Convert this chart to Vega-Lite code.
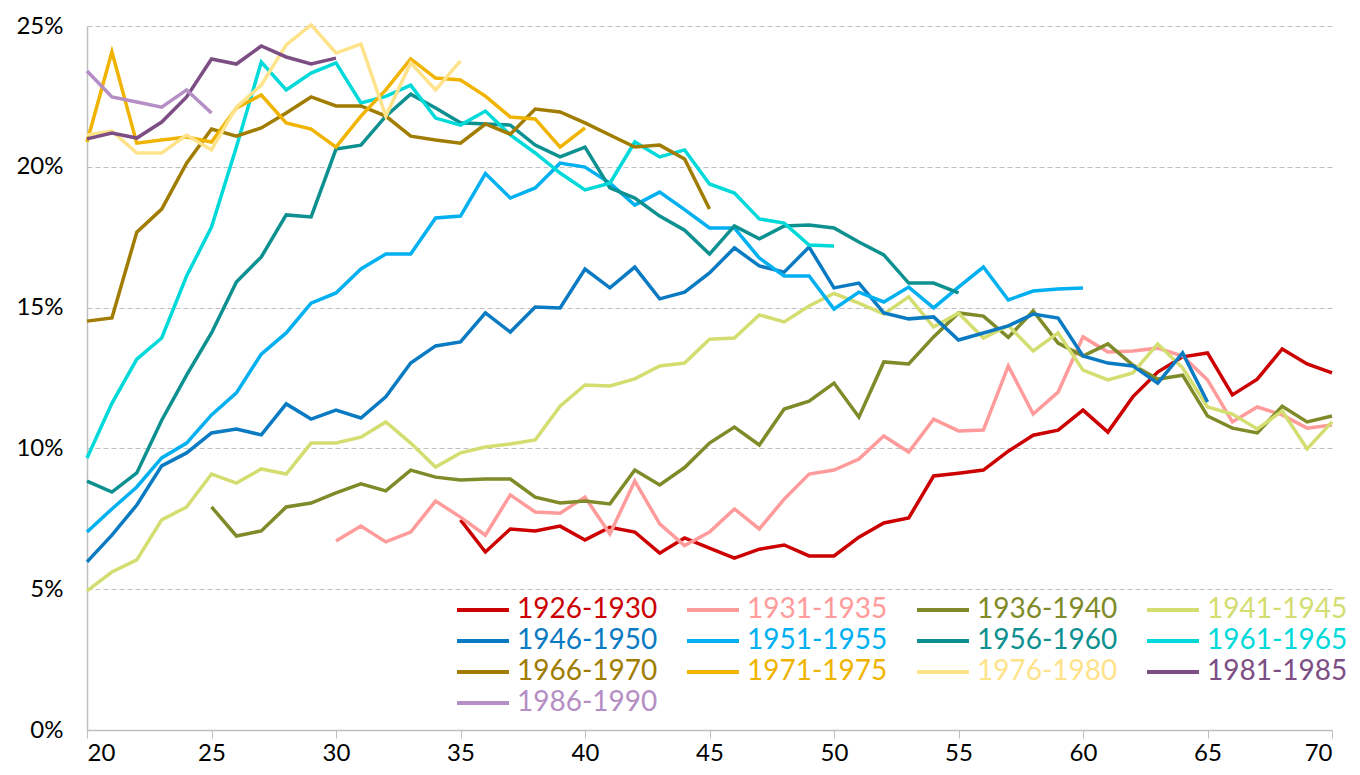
{
  "$schema": "https://vega.github.io/schema/vega-lite/v6.json",
  "width": 1245,
  "height": 704,
  "autosize": {"type": "none"},
  "padding": {"left": 87, "top": 26, "right": 28, "bottom": 45},
  "background": "white",
  "config": {
    "view": {"stroke": null},
    "font": "Lato",
    "axis": {"labelFont": "Lato", "labelColor": "#000000"}
  },
  "data": {"values": [
    {"c":"1926-1930","a":35,"v":7.46},{"c":"1926-1930","a":36,"v":6.32},{"c":"1926-1930","a":37,"v":7.14},{"c":"1926-1930","a":38,"v":7.07},{"c":"1926-1930","a":39,"v":7.24},{"c":"1926-1930","a":40,"v":6.75},{"c":"1926-1930","a":41,"v":7.2},{"c":"1926-1930","a":42,"v":7.03},{"c":"1926-1930","a":43,"v":6.28},{"c":"1926-1930","a":44,"v":6.82},{"c":"1926-1930","a":45,"v":6.46},{"c":"1926-1930","a":46,"v":6.1},{"c":"1926-1930","a":47,"v":6.42},{"c":"1926-1930","a":48,"v":6.57},{"c":"1926-1930","a":49,"v":6.18},{"c":"1926-1930","a":50,"v":6.18},{"c":"1926-1930","a":51,"v":6.85},{"c":"1926-1930","a":52,"v":7.35},{"c":"1926-1930","a":53,"v":7.53},{"c":"1926-1930","a":54,"v":9.02},{"c":"1926-1930","a":55,"v":9.12},{"c":"1926-1930","a":56,"v":9.23},{"c":"1926-1930","a":57,"v":9.9},{"c":"1926-1930","a":58,"v":10.47},{"c":"1926-1930","a":59,"v":10.65},{"c":"1926-1930","a":60,"v":11.36},{"c":"1926-1930","a":61,"v":10.58},{"c":"1926-1930","a":62,"v":11.83},{"c":"1926-1930","a":63,"v":12.71},{"c":"1926-1930","a":64,"v":13.25},{"c":"1926-1930","a":65,"v":13.39},{"c":"1926-1930","a":66,"v":11.9},{"c":"1926-1930","a":67,"v":12.46},{"c":"1926-1930","a":68,"v":13.53},{"c":"1926-1930","a":69,"v":13.0},{"c":"1926-1930","a":70,"v":12.68},
    {"c":"1931-1935","a":30,"v":6.71},{"c":"1931-1935","a":31,"v":7.24},{"c":"1931-1935","a":32,"v":6.68},{"c":"1931-1935","a":33,"v":7.03},{"c":"1931-1935","a":34,"v":8.13},{"c":"1931-1935","a":35,"v":7.56},{"c":"1931-1935","a":36,"v":6.92},{"c":"1931-1935","a":37,"v":8.35},{"c":"1931-1935","a":38,"v":7.74},{"c":"1931-1935","a":39,"v":7.7},{"c":"1931-1935","a":40,"v":8.27},{"c":"1931-1935","a":41,"v":6.96},{"c":"1931-1935","a":42,"v":8.84},{"c":"1931-1935","a":43,"v":7.32},{"c":"1931-1935","a":44,"v":6.55},{"c":"1931-1935","a":45,"v":7.03},{"c":"1931-1935","a":46,"v":7.85},{"c":"1931-1935","a":47,"v":7.14},{"c":"1931-1935","a":48,"v":8.2},{"c":"1931-1935","a":49,"v":9.09},{"c":"1931-1935","a":50,"v":9.23},{"c":"1931-1935","a":51,"v":9.62},{"c":"1931-1935","a":52,"v":10.44},{"c":"1931-1935","a":53,"v":9.87},{"c":"1931-1935","a":54,"v":11.04},{"c":"1931-1935","a":55,"v":10.62},{"c":"1931-1935","a":56,"v":10.65},{"c":"1931-1935","a":57,"v":12.93},{"c":"1931-1935","a":58,"v":11.22},{"c":"1931-1935","a":59,"v":12.0},{"c":"1931-1935","a":60,"v":13.96},{"c":"1931-1935","a":61,"v":13.42},{"c":"1931-1935","a":62,"v":13.46},{"c":"1931-1935","a":63,"v":13.56},{"c":"1931-1935","a":64,"v":13.28},{"c":"1931-1935","a":65,"v":12.43},{"c":"1931-1935","a":66,"v":10.94},{"c":"1931-1935","a":67,"v":11.47},{"c":"1931-1935","a":68,"v":11.19},{"c":"1931-1935","a":69,"v":10.72},{"c":"1931-1935","a":70,"v":10.83},
    {"c":"1936-1940","a":25,"v":7.92},{"c":"1936-1940","a":26,"v":6.89},{"c":"1936-1940","a":27,"v":7.07},{"c":"1936-1940","a":28,"v":7.92},{"c":"1936-1940","a":29,"v":8.06},{"c":"1936-1940","a":30,"v":8.42},{"c":"1936-1940","a":31,"v":8.74},{"c":"1936-1940","a":32,"v":8.49},{"c":"1936-1940","a":33,"v":9.23},{"c":"1936-1940","a":34,"v":8.98},{"c":"1936-1940","a":35,"v":8.88},{"c":"1936-1940","a":36,"v":8.91},{"c":"1936-1940","a":37,"v":8.91},{"c":"1936-1940","a":38,"v":8.27},{"c":"1936-1940","a":39,"v":8.06},{"c":"1936-1940","a":40,"v":8.13},{"c":"1936-1940","a":41,"v":8.03},{"c":"1936-1940","a":42,"v":9.23},{"c":"1936-1940","a":43,"v":8.7},{"c":"1936-1940","a":44,"v":9.32},{"c":"1936-1940","a":45,"v":10.19},{"c":"1936-1940","a":46,"v":10.76},{"c":"1936-1940","a":47,"v":10.12},{"c":"1936-1940","a":48,"v":11.4},{"c":"1936-1940","a":49,"v":11.68},{"c":"1936-1940","a":50,"v":12.32},{"c":"1936-1940","a":51,"v":11.11},{"c":"1936-1940","a":52,"v":13.07},{"c":"1936-1940","a":53,"v":13.0},{"c":"1936-1940","a":54,"v":13.96},{"c":"1936-1940","a":55,"v":14.81},{"c":"1936-1940","a":56,"v":14.7},{"c":"1936-1940","a":57,"v":13.94},{"c":"1936-1940","a":58,"v":14.88},{"c":"1936-1940","a":59,"v":13.74},{"c":"1936-1940","a":60,"v":13.28},{"c":"1936-1940","a":61,"v":13.71},{"c":"1936-1940","a":62,"v":12.96},{"c":"1936-1940","a":63,"v":12.46},{"c":"1936-1940","a":64,"v":12.6},{"c":"1936-1940","a":65,"v":11.15},{"c":"1936-1940","a":66,"v":10.72},{"c":"1936-1940","a":67,"v":10.55},{"c":"1936-1940","a":68,"v":11.5},{"c":"1936-1940","a":69,"v":10.94},{"c":"1936-1940","a":70,"v":11.15},
    {"c":"1941-1945","a":20,"v":4.94},{"c":"1941-1945","a":21,"v":5.61},{"c":"1941-1945","a":22,"v":6.04},{"c":"1941-1945","a":23,"v":7.46},{"c":"1941-1945","a":24,"v":7.92},{"c":"1941-1945","a":25,"v":9.09},{"c":"1941-1945","a":26,"v":8.77},{"c":"1941-1945","a":27,"v":9.27},{"c":"1941-1945","a":28,"v":9.09},{"c":"1941-1945","a":29,"v":10.19},{"c":"1941-1945","a":30,"v":10.19},{"c":"1941-1945","a":31,"v":10.4},{"c":"1941-1945","a":32,"v":10.94},{"c":"1941-1945","a":33,"v":10.19},{"c":"1941-1945","a":34,"v":9.34},{"c":"1941-1945","a":35,"v":9.84},{"c":"1941-1945","a":36,"v":10.05},{"c":"1941-1945","a":37,"v":10.16},{"c":"1941-1945","a":38,"v":10.3},{"c":"1941-1945","a":39,"v":11.5},{"c":"1941-1945","a":40,"v":12.25},{"c":"1941-1945","a":41,"v":12.22},{"c":"1941-1945","a":42,"v":12.47},{"c":"1941-1945","a":43,"v":12.93},{"c":"1941-1945","a":44,"v":13.03},{"c":"1941-1945","a":45,"v":13.88},{"c":"1941-1945","a":46,"v":13.92},{"c":"1941-1945","a":47,"v":14.74},{"c":"1941-1945","a":48,"v":14.49},{"c":"1941-1945","a":49,"v":15.06},{"c":"1941-1945","a":50,"v":15.5},{"c":"1941-1945","a":51,"v":15.16},{"c":"1941-1945","a":52,"v":14.77},{"c":"1941-1945","a":53,"v":15.38},{"c":"1941-1945","a":54,"v":14.31},{"c":"1941-1945","a":55,"v":14.81},{"c":"1941-1945","a":56,"v":13.92},{"c":"1941-1945","a":57,"v":14.36},{"c":"1941-1945","a":58,"v":13.46},{"c":"1941-1945","a":59,"v":14.1},{"c":"1941-1945","a":60,"v":12.78},{"c":"1941-1945","a":61,"v":12.43},{"c":"1941-1945","a":62,"v":12.68},{"c":"1941-1945","a":63,"v":13.71},{"c":"1941-1945","a":64,"v":12.86},{"c":"1941-1945","a":65,"v":11.47},{"c":"1941-1945","a":66,"v":11.22},{"c":"1941-1945","a":67,"v":10.69},{"c":"1941-1945","a":68,"v":11.33},{"c":"1941-1945","a":69,"v":9.98},{"c":"1941-1945","a":70,"v":10.94},
    {"c":"1946-1950","a":20,"v":5.97},{"c":"1946-1950","a":21,"v":6.92},{"c":"1946-1950","a":22,"v":7.99},{"c":"1946-1950","a":23,"v":9.38},{"c":"1946-1950","a":24,"v":9.84},{"c":"1946-1950","a":25,"v":10.55},{"c":"1946-1950","a":26,"v":10.69},{"c":"1946-1950","a":27,"v":10.48},{"c":"1946-1950","a":28,"v":11.58},{"c":"1946-1950","a":29,"v":11.04},{"c":"1946-1950","a":30,"v":11.36},{"c":"1946-1950","a":31,"v":11.08},{"c":"1946-1950","a":32,"v":11.83},{"c":"1946-1950","a":33,"v":13.03},{"c":"1946-1950","a":34,"v":13.64},{"c":"1946-1950","a":35,"v":13.78},{"c":"1946-1950","a":36,"v":14.81},{"c":"1946-1950","a":37,"v":14.13},{"c":"1946-1950","a":38,"v":15.02},{"c":"1946-1950","a":39,"v":14.99},{"c":"1946-1950","a":40,"v":16.37},{"c":"1946-1950","a":41,"v":15.7},{"c":"1946-1950","a":42,"v":16.44},{"c":"1946-1950","a":43,"v":15.31},{"c":"1946-1950","a":44,"v":15.55},{"c":"1946-1950","a":45,"v":16.23},{"c":"1946-1950","a":46,"v":17.12},{"c":"1946-1950","a":47,"v":16.48},{"c":"1946-1950","a":48,"v":16.26},{"c":"1946-1950","a":49,"v":17.15},{"c":"1946-1950","a":50,"v":15.7},{"c":"1946-1950","a":51,"v":15.87},{"c":"1946-1950","a":52,"v":14.81},{"c":"1946-1950","a":53,"v":14.6},{"c":"1946-1950","a":54,"v":14.67},{"c":"1946-1950","a":55,"v":13.85},{"c":"1946-1950","a":56,"v":14.1},{"c":"1946-1950","a":57,"v":14.35},{"c":"1946-1950","a":58,"v":14.77},{"c":"1946-1950","a":59,"v":14.63},{"c":"1946-1950","a":60,"v":13.28},{"c":"1946-1950","a":61,"v":13.03},{"c":"1946-1950","a":62,"v":12.93},{"c":"1946-1950","a":63,"v":12.32},{"c":"1946-1950","a":64,"v":13.39},{"c":"1946-1950","a":65,"v":11.65},
    {"c":"1951-1955","a":20,"v":7.03},{"c":"1951-1955","a":21,"v":7.85},{"c":"1951-1955","a":22,"v":8.63},{"c":"1951-1955","a":23,"v":9.66},{"c":"1951-1955","a":24,"v":10.19},{"c":"1951-1955","a":25,"v":11.19},{"c":"1951-1955","a":26,"v":11.97},{"c":"1951-1955","a":27,"v":13.35},{"c":"1951-1955","a":28,"v":14.1},{"c":"1951-1955","a":29,"v":15.16},{"c":"1951-1955","a":30,"v":15.52},{"c":"1951-1955","a":31,"v":16.37},{"c":"1951-1955","a":32,"v":16.9},{"c":"1951-1955","a":33,"v":16.9},{"c":"1951-1955","a":34,"v":18.18},{"c":"1951-1955","a":35,"v":18.25},{"c":"1951-1955","a":36,"v":19.76},{"c":"1951-1955","a":37,"v":18.89},{"c":"1951-1955","a":38,"v":19.25},{"c":"1951-1955","a":39,"v":20.13},{"c":"1951-1955","a":40,"v":19.99},{"c":"1951-1955","a":41,"v":19.42},{"c":"1951-1955","a":42,"v":18.64},{"c":"1951-1955","a":43,"v":19.1},{"c":"1951-1955","a":44,"v":18.48},{"c":"1951-1955","a":45,"v":17.83},{"c":"1951-1955","a":46,"v":17.83},{"c":"1951-1955","a":47,"v":16.76},{"c":"1951-1955","a":48,"v":16.12},{"c":"1951-1955","a":49,"v":16.12},{"c":"1951-1955","a":50,"v":14.95},{"c":"1951-1955","a":51,"v":15.55},{"c":"1951-1955","a":52,"v":15.2},{"c":"1951-1955","a":53,"v":15.73},{"c":"1951-1955","a":54,"v":14.99},{"c":"1951-1955","a":55,"v":15.73},{"c":"1951-1955","a":56,"v":16.44},{"c":"1951-1955","a":57,"v":15.27},{"c":"1951-1955","a":58,"v":15.59},{"c":"1951-1955","a":59,"v":15.66},{"c":"1951-1955","a":60,"v":15.7},
    {"c":"1956-1960","a":20,"v":8.84},{"c":"1956-1960","a":21,"v":8.45},{"c":"1956-1960","a":22,"v":9.13},{"c":"1956-1960","a":23,"v":11.0},{"c":"1956-1960","a":24,"v":12.6},{"c":"1956-1960","a":25,"v":14.1},{"c":"1956-1960","a":26,"v":15.91},{"c":"1956-1960","a":27,"v":16.8},{"c":"1956-1960","a":28,"v":18.29},{"c":"1956-1960","a":29,"v":18.22},{"c":"1956-1960","a":30,"v":20.63},{"c":"1956-1960","a":31,"v":20.77},{"c":"1956-1960","a":32,"v":21.8},{"c":"1956-1960","a":33,"v":22.58},{"c":"1956-1960","a":34,"v":22.09},{"c":"1956-1960","a":35,"v":21.56},{"c":"1956-1960","a":36,"v":21.52},{"c":"1956-1960","a":37,"v":21.48},{"c":"1956-1960","a":38,"v":20.77},{"c":"1956-1960","a":39,"v":20.35},{"c":"1956-1960","a":40,"v":20.7},{"c":"1956-1960","a":41,"v":19.25},{"c":"1956-1960","a":42,"v":18.89},{"c":"1956-1960","a":43,"v":18.25},{"c":"1956-1960","a":44,"v":17.75},{"c":"1956-1960","a":45,"v":16.9},{"c":"1956-1960","a":46,"v":17.9},{"c":"1956-1960","a":47,"v":17.44},{"c":"1956-1960","a":48,"v":17.9},{"c":"1956-1960","a":49,"v":17.93},{"c":"1956-1960","a":50,"v":17.83},{"c":"1956-1960","a":51,"v":17.33},{"c":"1956-1960","a":52,"v":16.87},{"c":"1956-1960","a":53,"v":15.87},{"c":"1956-1960","a":54,"v":15.87},{"c":"1956-1960","a":55,"v":15.52},
    {"c":"1961-1965","a":20,"v":9.66},{"c":"1961-1965","a":21,"v":11.6},{"c":"1961-1965","a":22,"v":13.17},{"c":"1961-1965","a":23,"v":13.92},{"c":"1961-1965","a":24,"v":16.12},{"c":"1961-1965","a":25,"v":17.86},{"c":"1961-1965","a":26,"v":20.7},{"c":"1961-1965","a":27,"v":23.72},{"c":"1961-1965","a":28,"v":22.73},{"c":"1961-1965","a":29,"v":23.33},{"c":"1961-1965","a":30,"v":23.69},{"c":"1961-1965","a":31,"v":22.27},{"c":"1961-1965","a":32,"v":22.5},{"c":"1961-1965","a":33,"v":22.9},{"c":"1961-1965","a":34,"v":21.73},{"c":"1961-1965","a":35,"v":21.48},{"c":"1961-1965","a":36,"v":21.98},{"c":"1961-1965","a":37,"v":21.13},{"c":"1961-1965","a":38,"v":20.49},{"c":"1961-1965","a":39,"v":19.78},{"c":"1961-1965","a":40,"v":19.18},{"c":"1961-1965","a":41,"v":19.42},{"c":"1961-1965","a":42,"v":20.88},{"c":"1961-1965","a":43,"v":20.35},{"c":"1961-1965","a":44,"v":20.6},{"c":"1961-1965","a":45,"v":19.39},{"c":"1961-1965","a":46,"v":19.07},{"c":"1961-1965","a":47,"v":18.15},{"c":"1961-1965","a":48,"v":18.0},{"c":"1961-1965","a":49,"v":17.22},{"c":"1961-1965","a":50,"v":17.19},
    {"c":"1966-1970","a":20,"v":14.52},{"c":"1966-1970","a":21,"v":14.63},{"c":"1966-1970","a":22,"v":17.68},{"c":"1966-1970","a":23,"v":18.5},{"c":"1966-1970","a":24,"v":20.13},{"c":"1966-1970","a":25,"v":21.34},{"c":"1966-1970","a":26,"v":21.09},{"c":"1966-1970","a":27,"v":21.38},{"c":"1966-1970","a":28,"v":21.91},{"c":"1966-1970","a":29,"v":22.48},{"c":"1966-1970","a":30,"v":22.16},{"c":"1966-1970","a":31,"v":22.16},{"c":"1966-1970","a":32,"v":21.8},{"c":"1966-1970","a":33,"v":21.09},{"c":"1966-1970","a":34,"v":20.95},{"c":"1966-1970","a":35,"v":20.84},{"c":"1966-1970","a":36,"v":21.52},{"c":"1966-1970","a":37,"v":21.16},{"c":"1966-1970","a":38,"v":22.05},{"c":"1966-1970","a":39,"v":21.95},{"c":"1966-1970","a":40,"v":21.56},{"c":"1966-1970","a":41,"v":21.13},{"c":"1966-1970","a":42,"v":20.7},{"c":"1966-1970","a":43,"v":20.77},{"c":"1966-1970","a":44,"v":20.28},{"c":"1966-1970","a":45,"v":18.5},
    {"c":"1971-1975","a":20,"v":20.88},{"c":"1971-1975","a":21,"v":24.08},{"c":"1971-1975","a":22,"v":20.84},{"c":"1971-1975","a":23,"v":20.95},{"c":"1971-1975","a":24,"v":21.06},{"c":"1971-1975","a":25,"v":20.88},{"c":"1971-1975","a":26,"v":22.09},{"c":"1971-1975","a":27,"v":22.55},{"c":"1971-1975","a":28,"v":21.56},{"c":"1971-1975","a":29,"v":21.34},{"c":"1971-1975","a":30,"v":20.7},{"c":"1971-1975","a":31,"v":21.8},{"c":"1971-1975","a":32,"v":22.73},{"c":"1971-1975","a":33,"v":23.83},{"c":"1971-1975","a":34,"v":23.15},{"c":"1971-1975","a":35,"v":23.08},{"c":"1971-1975","a":36,"v":22.51},{"c":"1971-1975","a":37,"v":21.77},{"c":"1971-1975","a":38,"v":21.7},{"c":"1971-1975","a":39,"v":20.7},{"c":"1971-1975","a":40,"v":21.38},
    {"c":"1976-1980","a":20,"v":21.13},{"c":"1976-1980","a":21,"v":21.27},{"c":"1976-1980","a":22,"v":20.49},{"c":"1976-1980","a":23,"v":20.49},{"c":"1976-1980","a":24,"v":21.13},{"c":"1976-1980","a":25,"v":20.6},{"c":"1976-1980","a":26,"v":22.12},{"c":"1976-1980","a":27,"v":22.9},{"c":"1976-1980","a":28,"v":24.33},{"c":"1976-1980","a":29,"v":25.04},{"c":"1976-1980","a":30,"v":24.04},{"c":"1976-1980","a":31,"v":24.36},{"c":"1976-1980","a":32,"v":21.8},{"c":"1976-1980","a":33,"v":23.69},{"c":"1976-1980","a":34,"v":22.73},{"c":"1976-1980","a":35,"v":23.76},
    {"c":"1981-1985","a":20,"v":20.99},{"c":"1981-1985","a":21,"v":21.2},{"c":"1981-1985","a":22,"v":21.02},{"c":"1981-1985","a":23,"v":21.59},{"c":"1981-1985","a":24,"v":22.48},{"c":"1981-1985","a":25,"v":23.83},{"c":"1981-1985","a":26,"v":23.65},{"c":"1981-1985","a":27,"v":24.29},{"c":"1981-1985","a":28,"v":23.9},{"c":"1981-1985","a":29,"v":23.65},{"c":"1981-1985","a":30,"v":23.86},
    {"c":"1986-1990","a":20,"v":23.4},{"c":"1986-1990","a":21,"v":22.48},{"c":"1986-1990","a":22,"v":22.3},{"c":"1986-1990","a":23,"v":22.12},{"c":"1986-1990","a":24,"v":22.73},{"c":"1986-1990","a":25,"v":21.91}
  ]},
  "mark": {"type": "line", "strokeWidth": 3.5, "strokeJoin": "miter", "clip": false},
  "encoding": {
    "x": {
      "field": "a", "type": "quantitative",
      "scale": {"domain": [20, 70], "nice": false, "zero": false},
      "axis": {
        "title": null, "values": [20,25,30,35,40,45,50,55,60,65,70],
        "grid": false, "domainColor": "#BFBFBF", "domainWidth": 1.5,
        "tickColor": "#BFBFBF", "tickSize": 8, "tickWidth": 1,
        "labelFontSize": 24, "labelPadding": 3, "labelColor": "#000000"
      }
    },
    "y": {
      "field": "v", "type": "quantitative",
      "scale": {"domain": [0, 25], "nice": false},
      "axis": {
        "title": null, "values": [0,5,10,15,20,25],
        "labelExpr": "datum.value + '%'",
        "grid": true, "gridColor": "#BFBFBF", "gridDash": [5, 3], "gridWidth": 1.2,
        "domainColor": "#BFBFBF", "domainWidth": 1.5, "ticks": false,
        "labelFontSize": 24, "labelPadding": 24, "labelColor": "#000000"
      }
    },
    "color": {
      "field": "c", "type": "nominal",
      "scale": {
        "domain": ["1926-1930","1931-1935","1936-1940","1941-1945","1946-1950","1951-1955","1956-1960","1961-1965","1966-1970","1971-1975","1976-1980","1981-1985","1986-1990"],
        "range": ["#CC0000","#FF9B9B","#7F8A28","#D4DD70","#0A7BC2","#00B0F0","#0C9090","#00D9D9","#A07C00","#F0B400","#FFE38A","#7C4E84","#B48EC4"]
      },
      "legend": {
        "title": null, "orient": "none", "legendX": 368, "legendY": 569,
        "columns": 4, "direction": "horizontal",
        "symbolType": "M-1,0H3", "symbolSize": 676, "symbolStrokeWidth": 4,
        "labelFontSize": 28, "labelFont": "Lato", "labelOffset": 32,
        "columnPadding": 21, "rowPadding": 2, "labelLimit": 300,
        "encode": {"labels": {"update": {"fill": {"signal": "scale('color', datum.value)"}}}}
      }
    }
  }
}
